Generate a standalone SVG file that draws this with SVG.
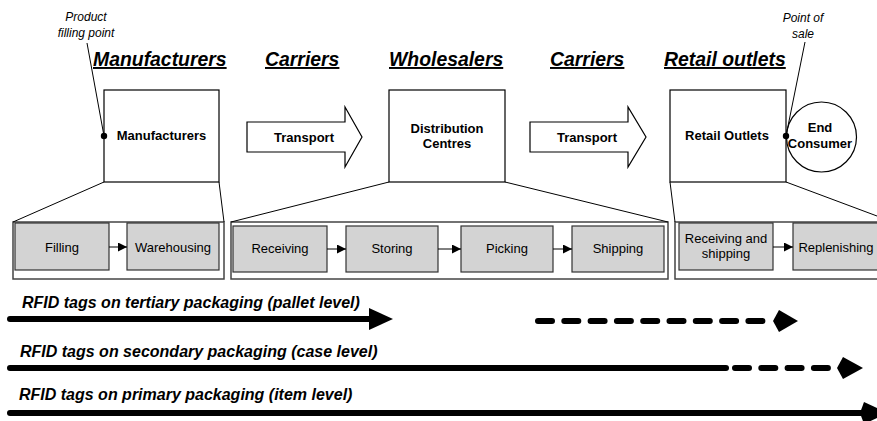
<svg xmlns="http://www.w3.org/2000/svg" width="877" height="421" viewBox="0 0 877 421">
<defs>
<style>
text{font-family:"Liberation Sans",Arial,sans-serif;fill:#000}
.hd{font-size:19.4px;font-weight:bold;font-style:italic;text-decoration:underline;text-anchor:start}
.note{font-size:12px;font-style:italic;text-anchor:middle}
.nl{font-size:13px;font-weight:bold;text-anchor:middle}
.il{font-size:13px;text-anchor:middle}
.rl{font-size:16px;font-weight:bold;font-style:italic}
.box{fill:#fff;stroke:#000;stroke-width:1.2}
.outer{fill:#fff;stroke:#444;stroke-width:1.5}
.inner{fill:#d3d3d3;stroke:#333;stroke-width:1.2}
.thin{stroke:#000;stroke-width:1;fill:none}
.big{stroke:#000;stroke-width:6;stroke-linecap:round;fill:none}
.dash{stroke-dasharray:14 12.3}
</style>
<marker id="sm" viewBox="0 0 10 10" refX="10" refY="5" markerWidth="9" markerHeight="9" markerUnits="userSpaceOnUse" orient="auto"><path d="M0,0 L10,5 L0,10 Z" fill="#000"/></marker>
</defs>

<!-- headings -->
<g id="headings">
<text class="hd" x="93" y="66">Manufacturers</text>
<text class="hd" x="265" y="66">Carriers</text>
<text class="hd" x="389" y="66">Wholesalers</text>
<text class="hd" x="550" y="66">Carriers</text>
<text class="hd" x="664" y="66">Retail outlets</text>
</g>

<g id="note-filling">
<text class="note" x="86" y="21">Product</text>
<text class="note" x="86" y="37">filling point</text>
</g>
<g id="note-sale">
<text class="note" x="803" y="22">Point of</text>
<text class="note" x="803" y="38">sale</text>
</g>

<g id="manufacturers">
<rect class="box" x="104" y="90" width="115" height="92"/>
<text class="nl" x="161.5" y="140">Manufacturers</text>
</g>
<g id="transport1">
<path class="box" d="M247,122 H345 V107 L362,137 L345,167 V152 H247 Z"/>
<text class="nl" x="304" y="142">Transport</text>
</g>
<g id="distribution">
<rect class="box" x="389" y="90" width="116" height="92"/>
<text class="nl" x="447" y="133">Distribution</text>
<text class="nl" x="447" y="148">Centres</text>
</g>
<g id="transport2">
<path class="box" d="M530,122 H628 V107 L646,137 L628,167 V152 H530 Z"/>
<text class="nl" x="587" y="142">Transport</text>
</g>
<g id="retail">
<rect class="box" x="670" y="90" width="116" height="92"/>
<text class="nl" x="727" y="140">Retail Outlets</text>
</g>
<g id="consumer">
<circle class="box" cx="821.5" cy="137" r="35"/>
<text class="nl" x="820" y="132">End</text>
<text class="nl" x="820" y="148">Consumer</text>
</g>

<!-- detail panels -->
<g id="panel-manufacturer">
<rect class="outer" x="13" y="222" width="211" height="57"/>
<g id="filling"><rect class="inner" x="15" y="223" width="94" height="47"/><text class="il" x="62" y="252">Filling</text></g>
<g id="warehousing"><rect class="inner" x="127" y="223" width="92" height="47"/><text class="il" x="173" y="252">Warehousing</text></g>
</g>
<g id="panel-wholesaler">
<rect class="outer" x="231" y="222" width="437" height="57"/>
<g id="receiving"><rect class="inner" x="233" y="226" width="94" height="46"/><text class="il" x="280" y="253">Receiving</text></g>
<g id="storing"><rect class="inner" x="346" y="226" width="92" height="46"/><text class="il" x="392" y="253">Storing</text></g>
<g id="picking"><rect class="inner" x="461" y="226" width="92" height="46"/><text class="il" x="507" y="253">Picking</text></g>
<g id="shipping"><rect class="inner" x="572" y="226" width="92" height="46"/><text class="il" x="618" y="253">Shipping</text></g>
</g>
<g id="panel-retail">
<rect class="outer" x="675" y="222" width="210" height="57"/>
<g id="receiving-shipping"><rect class="inner" x="679" y="223" width="94" height="47"/><text class="il" x="726" y="243">Receiving and</text><text class="il" x="726" y="258">shipping</text></g>
<g id="replenishing"><rect class="inner" x="793" y="223" width="92" height="47"/><text class="il" x="836" y="252">Replenishing</text></g>
</g>

<g id="connectors">
<line class="thin" x1="87" y1="43" x2="104" y2="136"/>
<circle cx="104" cy="136" r="3.2" fill="#000"/>
<line class="thin" x1="805" y1="42" x2="786" y2="136"/>
<circle cx="786" cy="136" r="3.2" fill="#000"/>
<line class="thin" x1="104" y1="182" x2="13" y2="222"/>
<line class="thin" x1="219" y1="182" x2="224" y2="222"/>
<line class="thin" x1="389" y1="182" x2="231" y2="222"/>
<line class="thin" x1="505" y1="182" x2="668" y2="222"/>
<line class="thin" x1="670" y1="182" x2="675" y2="222"/>
<line class="thin" x1="786" y1="182" x2="877" y2="216"/>
<line class="thin" x1="109" y1="247" x2="127" y2="247" marker-end="url(#sm)"/>
<line class="thin" x1="327" y1="249" x2="346" y2="249" marker-end="url(#sm)"/>
<line class="thin" x1="438" y1="249" x2="461" y2="249" marker-end="url(#sm)"/>
<line class="thin" x1="553" y1="249" x2="572" y2="249" marker-end="url(#sm)"/>
<line class="thin" x1="773" y1="247" x2="793" y2="247" marker-end="url(#sm)"/>
</g>

<g id="rfid">
<text class="rl" x="22" y="308">RFID tags on tertiary packaging (pallet level)</text>
<line class="big" x1="10" y1="319" x2="372" y2="319"/>
<path d="M369,308 L393,319 L369,330 Z" fill="#000"/>
<line class="big dash" x1="538" y1="321" x2="770" y2="321"/>
<path d="M779,310 L798,321 L779,332 L773,321 Z" fill="#000"/>

<text class="rl" x="20" y="357">RFID tags on secondary packaging (case level)</text>
<line class="big" x1="10" y1="368" x2="726" y2="368"/>
<line class="big dash" x1="735" y1="368" x2="830" y2="368"/>
<path d="M843,357 L863,368 L843,379 L837,368 Z" fill="#000"/>

<text class="rl" x="19" y="400">RFID tags on primary packaging (item level)</text>
<line class="big" x1="10" y1="413" x2="866" y2="413"/>
<path d="M864,402 L888,413 L864,424 L860,413 Z" fill="#000"/>
</g>
</svg>
